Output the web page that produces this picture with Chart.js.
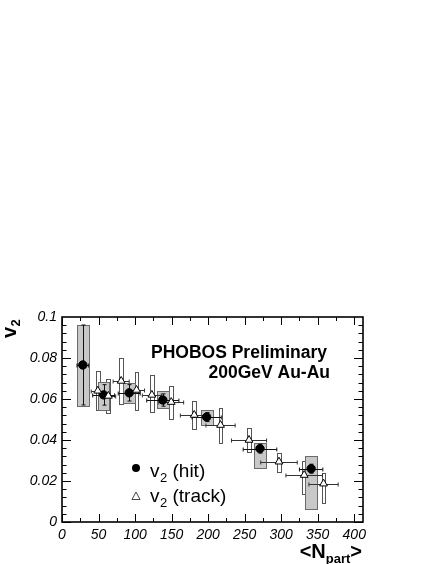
<!DOCTYPE html>
<html><head><meta charset="utf-8">
<script src="https://cdn.jsdelivr.net/npm/chart.js@4.4.1/dist/chart.umd.min.js"></script>
<style>html,body{margin:0;padding:0;background:#fff}#wrap{width:436px;height:564px;position:relative}</style>
</head><body><div id="wrap"><canvas id="c"></canvas></div>
<script>
// axis ticks
const xTicks = [0, 50, 100, 150, 200, 250, 300, 350, 400];
const xTickLabels = ['0', '50', '100', '150', '200', '250', '300', '350', '400'];
const yTicks = [0, 0.02, 0.04, 0.06, 0.08, 0.1];
const yTickLabels = ['0', '0.02', '0.04', '0.06', '0.08', '0.1'];

// v2 (hit)
const hitN     = [28.5, 57, 92, 138, 198, 271, 341];
const hitV     = [0.0766, 0.0620, 0.0630, 0.0595, 0.0512, 0.0358, 0.0260];
const hitStat  = [0.0195, 0.0050, 0.0040, 0.0030, 0.0022, 0.0022, 0.0022];
const hitSysHi = [0.0963, 0.0684, 0.0678, 0.0639, 0.0546, 0.0387, 0.0320];
const hitSysLo = [0.0567, 0.0546, 0.0582, 0.0556, 0.0474, 0.0262, 0.0062];
const hitNErr  = [8, 15, 15, 22, 20, 23, 16];

// v2 (track)
const trkN     = [49, 63.5, 81, 102, 123, 149.5, 181, 217, 256, 297, 331.5, 358];
const trkV     = [0.0640, 0.0615, 0.0688, 0.0644, 0.0620, 0.0585, 0.0522, 0.0473, 0.0400, 0.0294, 0.0229, 0.0187];
const trkSysHi = [0.0737, 0.0700, 0.0800, 0.0733, 0.0717, 0.0663, 0.0590, 0.0555, 0.0457, 0.0335, 0.0300, 0.0237];
const trkSysLo = [0.0546, 0.0533, 0.0576, 0.0546, 0.0538, 0.0501, 0.0452, 0.0387, 0.0343, 0.0245, 0.0135, 0.0091];
const trkNErr  = [9, 10, 11, 11, 13, 17, 19, 20, 24, 25, 25, 20];

const FONT = '"Liberation Sans", Arial, Helvetica, sans-serif';

const decor = {
  id: 'decor',
  beforeDatasetsDraw(chart) {
    const {ctx, scales: {x, y}, chartArea: a} = chart;
    ctx.save();
    ctx.beginPath(); ctx.rect(a.left, a.top, a.right - a.left, a.bottom - a.top); ctx.clip();
    // track systematic boxes (white)
    ctx.lineWidth = 1;
    for (let i = 0; i < trkN.length; i++) {
      const x0 = Math.round(x.getPixelForValue(trkN[i] - 2.6)) + 0.5;
      const x1 = Math.round(x.getPixelForValue(trkN[i] + 2.6)) + 0.5;
      const y0 = Math.round(y.getPixelForValue(trkSysHi[i])) + 0.5;
      const y1 = Math.round(y.getPixelForValue(trkSysLo[i])) + 0.5;
      ctx.fillStyle = '#fff'; ctx.fillRect(x0, y0, x1 - x0, y1 - y0);
      ctx.strokeStyle = '#555'; ctx.strokeRect(x0, y0, x1 - x0, y1 - y0);
    }
    // hit systematic boxes (gray)
    for (let i = 0; i < hitN.length; i++) {
      const x0 = Math.round(x.getPixelForValue(hitN[i] - 8)) + 0.5;
      const x1 = Math.round(x.getPixelForValue(hitN[i] + 8)) + 0.5;
      const y0 = Math.round(y.getPixelForValue(hitSysHi[i])) + 0.5;
      const y1 = Math.round(y.getPixelForValue(hitSysLo[i])) + 0.5;
      ctx.fillStyle = '#c8c8c8'; ctx.fillRect(x0, y0, x1 - x0, y1 - y0);
      ctx.strokeStyle = '#6a6a6a'; ctx.strokeRect(x0, y0, x1 - x0, y1 - y0);
    }
    // horizontal error bars with caps
    const hbar = (n, v, e, col) => {
      const xa = x.getPixelForValue(n - e), xb = x.getPixelForValue(n + e);
      const yy = Math.round(y.getPixelForValue(v)) + 0.5;
      ctx.strokeStyle = col; ctx.beginPath();
      ctx.moveTo(xa, yy); ctx.lineTo(xb, yy);
      ctx.moveTo(xa, yy - 2); ctx.lineTo(xa, yy + 2);
      ctx.moveTo(xb, yy - 2); ctx.lineTo(xb, yy + 2);
      ctx.stroke();
    };
    const vbar = (n, v, e, col) => {
      const xx = Math.round(x.getPixelForValue(n)) + 0.5;
      const ya = y.getPixelForValue(v + e), yb = y.getPixelForValue(v - e);
      ctx.strokeStyle = col; ctx.beginPath();
      ctx.moveTo(xx, ya); ctx.lineTo(xx, yb);
      ctx.moveTo(xx - 2, ya); ctx.lineTo(xx + 2, ya);
      ctx.moveTo(xx - 2, yb); ctx.lineTo(xx + 2, yb);
      ctx.stroke();
    };
    for (let i = 0; i < trkN.length; i++) hbar(trkN[i], trkV[i], trkNErr[i], '#333');
    for (let i = 0; i < hitN.length; i++) { hbar(hitN[i], hitV[i], hitNErr[i], '#111'); vbar(hitN[i], hitV[i], hitStat[i], '#111'); }
    ctx.restore();
  },
  afterDraw(chart) {
    const {ctx, scales: {x, y}, chartArea: a} = chart;
    ctx.save();
    // ticks (inward, all four sides)
    ctx.strokeStyle = '#000'; ctx.lineWidth = 1;
    ctx.beginPath();
    for (let k = 0; k < yTicks.length - 1; k++) {
      const step = (yTicks[k + 1] - yTicks[k]) / 5;
      for (let j = 0; j < 5; j++) {
        const py = Math.round(y.getPixelForValue(yTicks[k] + j * step)) + 0.5;
        const L = j === 0 ? 9 : 4.5;
        ctx.moveTo(a.left, py); ctx.lineTo(a.left + L, py);
        ctx.moveTo(a.right, py); ctx.lineTo(a.right - L, py);
      }
    }
    for (let k = 0; k < xTicks.length; k++) {
      for (let j = 0; j < 2; j++) {
        const v = xTicks[k] + j * (xTicks[1] - xTicks[0]) / 2;
        if (v > x.max) continue;
        const px = Math.round(x.getPixelForValue(v)) + 0.5;
        const L = j === 0 ? 8 : 4;
        ctx.moveTo(px, a.bottom); ctx.lineTo(px, a.bottom - L);
        ctx.moveTo(px, a.top); ctx.lineTo(px, a.top + L);
      }
    }
    ctx.stroke();
    // frame
    ctx.lineWidth = 1.6;
    ctx.strokeRect(a.left, a.top, a.right - a.left, a.bottom - a.top);

    ctx.fillStyle = '#000';
    // annotation
    ctx.textAlign = 'right'; ctx.textBaseline = 'alphabetic';
    ctx.font = 'bold 17.5px ' + FONT;
    ctx.fillText('PHOBOS Preliminary', 327, 358);
    ctx.fillText('200GeV Au-Au', 330, 378);

    // legend
    ctx.textAlign = 'left';
    ctx.beginPath(); ctx.arc(136, 468, 4, 0, Math.PI * 2); ctx.fill();
    ctx.beginPath(); ctx.moveTo(136, 492); ctx.lineTo(140, 499.5); ctx.lineTo(132, 499.5); ctx.closePath();
    ctx.fillStyle = '#fff'; ctx.fill(); ctx.strokeStyle = '#444'; ctx.lineWidth = 1; ctx.stroke();
    ctx.fillStyle = '#000';
    const entry = (txt, bx, by) => {
      ctx.font = '19px ' + FONT; ctx.fillText('v', bx, by);
      let w = ctx.measureText('v').width;
      ctx.font = '13px ' + FONT; ctx.fillText('2', bx + w + 0.5, by + 5);
      w += ctx.measureText('2').width + 0.5;
      ctx.font = '19px ' + FONT; ctx.fillText(' ' + txt, bx + w, by);
    };
    entry('(hit)', 150, 477);
    entry('(track)', 150, 502);

    // y axis title v2 (rotated)
    ctx.save();
    ctx.translate(16, 338); ctx.rotate(-Math.PI / 2);
    ctx.font = 'bold 20px ' + FONT; ctx.fillText('v', 0, 0);
    const vw = ctx.measureText('v').width;
    ctx.font = 'bold 13px ' + FONT; ctx.fillText('2', vw + 0.5, 4);
    ctx.restore();

    // x axis title <Npart>
    ctx.font = 'bold 20px ' + FONT;
    const w1 = ctx.measureText('<N').width, w3 = ctx.measureText('>').width;
    ctx.font = 'bold 13px ' + FONT;
    const w2 = ctx.measureText('part').width;
    let sx = 362 - (w1 + w2 + w3);
    ctx.font = 'bold 20px ' + FONT; ctx.fillText('<N', sx, 558);
    ctx.font = 'bold 13px ' + FONT; ctx.fillText('part', sx + w1, 563);
    ctx.font = 'bold 20px ' + FONT; ctx.fillText('>', sx + w1 + w2, 558);
    ctx.restore();
  }
};

new Chart(document.getElementById('c'), {
  type: 'scatter',
  data: {
    datasets: [
      {
        label: 'v2 (track)',
        data: trkN.map((n, i) => ({x: n, y: trkV[i]})),
        pointStyle: 'triangle', pointRadius: 4.5, pointHoverRadius: 4.5,
        backgroundColor: '#fff', borderColor: '#000', borderWidth: 1
      },
      {
        label: 'v2 (hit)',
        data: hitN.map((n, i) => ({x: n, y: hitV[i]})),
        pointStyle: 'circle', pointRadius: 4.2, pointHoverRadius: 4.2,
        backgroundColor: '#000', borderColor: '#000', borderWidth: 1
      }
    ]
  },
  options: {
    responsive: true, maintainAspectRatio: false, animation: false,
    devicePixelRatio: 1,
    layout: {padding: {top: 317, right: 73, left: 0, bottom: 0}},
    plugins: {legend: {display: false}, tooltip: {enabled: false}},
    events: [],
    scales: {
      x: {
        type: 'linear', min: 0, max: 412,
        grid: {display: false, drawTicks: false}, border: {display: false},
        afterBuildTicks: s => { s.ticks = xTicks.map(v => ({value: v})); },
        afterFit: s => { s.height = 42; },
        ticks: {
          callback: (v, i) => xTickLabels[i], maxRotation: 0, autoSkip: false, padding: 5,
          color: '#000', font: {family: FONT, size: 14, style: 'italic'}
        }
      },
      y: {
        type: 'linear', min: 0, max: 0.1,
        grid: {display: false, drawTicks: false}, border: {display: false},
        afterBuildTicks: s => { s.ticks = yTicks.map(v => ({value: v})); },
        afterFit: s => { s.width = 62; },
        ticks: {
          callback: (v, i) => yTickLabels[i], autoSkip: false, padding: 5,
          color: '#000', font: {family: FONT, size: 14, style: 'italic'}
        }
      }
    }
  },
  plugins: [decor]
});
</script>
</body></html>
